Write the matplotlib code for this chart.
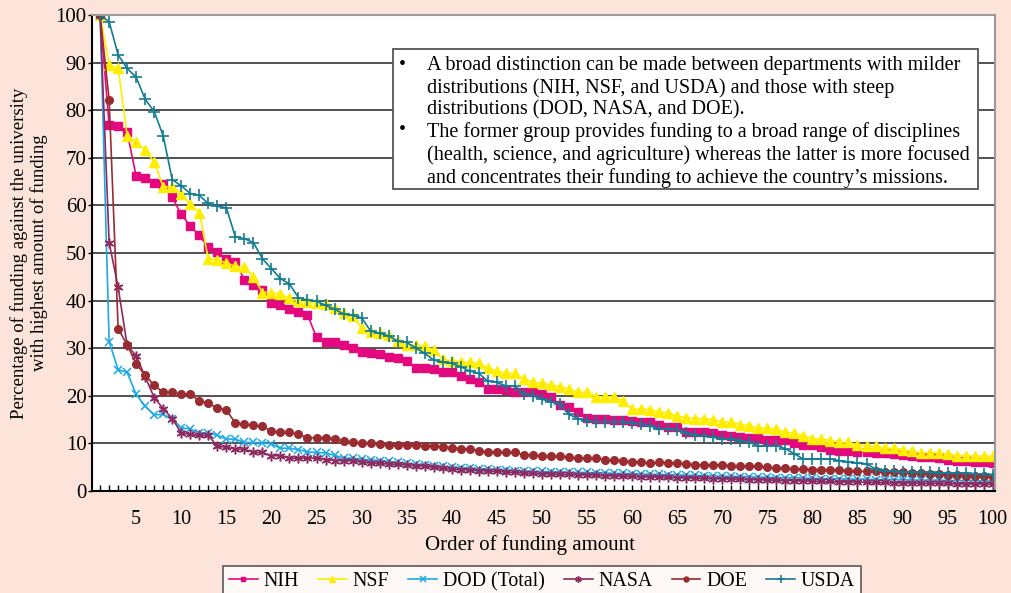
import matplotlib.pyplot as plt
import numpy as np
from matplotlib.patches import Rectangle
from matplotlib.ticker import MultipleLocator

# share of funding vs. top university, ranked 1..100
nih = [100, 76.8, 76.6, 75.4, 66.1, 65.8, 64.7, 64.4, 61.7, 58.1,
       55.7, 53.7, 51.2, 50.2, 48.8, 48.1, 44.4, 43.3, 42.3, 39.6,
       39.1, 38.2, 37.7, 37.0, 32.3, 31.3, 31.3, 30.7, 30.1, 29.3,
       28.9, 28.7, 28.2, 28.0, 27.3, 25.9, 25.9, 25.7, 25.0, 25.0,
       24.2, 23.6, 22.9, 21.5, 21.4, 21.2, 20.8, 20.9, 20.9, 20.3,
       19.8, 18.0, 17.7, 16.6, 15.4, 15.1, 15.1, 15.0, 15.0, 14.7,
       14.4, 14.4, 13.9, 13.5, 13.5, 12.4, 12.3, 12.3, 12.2, 11.7,
       11.6, 11.4, 11.1, 11.1, 10.8, 10.8, 10.8, 10.1, 9.7, 9.6,
       9.3, 8.7, 8.5, 8.5, 8.2, 8.1, 8.0, 7.9, 7.8, 7.5,
       7.4, 7.1, 7.1, 6.9, 6.6, 6.2, 6.2, 6.0, 6.0, 5.8]
nsf = [100, 89.5, 88.8, 74.6, 73.4, 71.6, 69.1, 63.9, 63.9, 62.5,
       60.2, 58.5, 48.8, 48.6, 47.9, 47.2, 47.1, 45.0, 41.7, 41.7,
       41.3, 40.6, 39.9, 39.7, 39.6, 39.2, 38.5, 37.5, 36.8, 34.2,
       33.5, 33.1, 32.7, 31.5, 30.6, 30.6, 30.4, 29.7, 27.7, 27.3,
       27.1, 27.0, 26.8, 25.8, 25.2, 24.7, 24.7, 23.5, 22.9, 22.6,
       22.3, 21.9, 21.4, 20.7, 20.7, 19.8, 19.8, 19.8, 18.9, 17.2,
       17.2, 17.1, 16.6, 16.4, 15.7, 15.4, 15.2, 15.2, 15.0, 14.5,
       14.5, 13.9, 13.7, 13.2, 13.2, 13.0, 12.3, 12.1, 11.6, 11.0,
       10.9, 10.6, 10.2, 10.2, 9.7, 9.5, 9.4, 9.0, 9.0, 8.7,
       8.3, 8.0, 8.0, 8.0, 7.8, 7.4, 7.4, 7.3, 7.3, 7.3]
dod = [100, 31.4, 25.5, 24.9, 20.3, 17.8, 16.0, 16.1, 15.1, 13.3,
       13.0, 12.2, 12.2, 11.7, 10.9, 10.9, 10.2, 10.2, 10.1, 9.9,
       9.0, 9.0, 8.7, 8.2, 8.1, 8.0, 7.5, 6.9, 6.9, 6.7,
       6.5, 6.4, 6.2, 6.0, 5.8, 5.6, 5.5, 5.3, 5.2, 5.0,
       4.9, 4.8, 4.7, 4.6, 4.5, 4.4, 4.3, 4.2, 4.1, 4.1,
       4.0, 4.0, 3.9, 3.9, 3.9, 3.8, 3.8, 3.7, 3.7, 3.6,
       3.6, 3.5, 3.5, 3.4, 3.4, 3.3, 3.3, 3.2, 3.2, 3.1,
       3.1, 3.0, 3.0, 2.9, 2.9, 2.8, 2.8, 2.8, 2.7, 2.7,
       2.6, 2.6, 2.6, 2.5, 2.5, 2.5, 2.4, 2.4, 2.4, 2.4,
       2.3, 2.3, 2.3, 2.3, 2.2, 2.2, 2.2, 2.2, 2.1, 2.1]
nasa = [100, 52.2, 42.8, 30.6, 28.4, 24.0, 19.6, 17.3, 15.2, 12.2,
        11.9, 11.7, 11.7, 9.4, 9.2, 8.8, 8.8, 8.1, 8.1, 7.4,
        7.4, 6.9, 6.9, 6.9, 6.9, 6.6, 6.4, 6.4, 6.4, 6.1,
        5.9, 5.8, 5.7, 5.6, 5.5, 5.3, 5.2, 5.0, 4.8, 4.6,
        4.5, 4.4, 4.3, 4.2, 4.1, 4.0, 3.9, 3.8, 3.7, 3.6,
        3.6, 3.5, 3.5, 3.4, 3.4, 3.3, 3.2, 3.2, 3.1, 3.1,
        3.0, 3.0, 2.9, 2.9, 2.8, 2.8, 2.7, 2.7, 2.6, 2.6,
        2.5, 2.5, 2.4, 2.4, 2.3, 2.3, 2.2, 2.2, 2.1, 2.1,
        2.0, 2.0, 1.9, 1.9, 1.9, 1.8, 1.8, 1.8, 1.7, 1.7,
        1.7, 1.6, 1.6, 1.6, 1.6, 1.5, 1.5, 1.5, 1.5, 1.4]
doe = [100, 82.2, 34.1, 30.7, 26.7, 24.3, 22.2, 20.7, 20.7, 20.3,
       20.3, 18.9, 18.4, 17.5, 17.0, 14.3, 14.0, 13.8, 13.6, 12.6,
       12.3, 12.3, 11.9, 11.2, 11.2, 11.2, 11.0, 10.5, 10.3, 10.1,
       10.0, 9.9, 9.7, 9.6, 9.6, 9.6, 9.5, 9.5, 9.3, 9.1,
       8.9, 8.8, 8.5, 8.2, 8.1, 8.1, 8.1, 7.6, 7.5, 7.4,
       7.4, 7.3, 7.1, 6.9, 6.9, 6.9, 6.5, 6.5, 6.4, 6.1,
       6.0, 5.9, 6.0, 5.9, 5.9, 5.7, 5.5, 5.5, 5.5, 5.5,
       5.3, 5.3, 5.2, 5.2, 5.0, 4.8, 4.8, 4.6, 4.6, 4.5,
       4.5, 4.4, 4.4, 4.3, 4.1, 4.1, 4.1, 3.9, 3.9, 3.9,
       3.8, 3.8, 3.6, 3.6, 3.4, 3.4, 3.2, 3.2, 3.1, 2.9]
usda = [100, 98.6, 91.6, 88.8, 86.9, 82.3, 79.7, 74.6, 65.4, 64.1,
        62.5, 62.1, 60.4, 59.8, 59.5, 53.4, 53.0, 52.2, 48.8, 46.7,
        44.6, 43.5, 40.6, 40.1, 39.9, 39.0, 38.2, 37.2, 36.9, 36.4,
        33.6, 33.1, 32.6, 31.5, 31.2, 30.1, 28.9, 27.5, 27.1, 26.8,
        26.1, 25.2, 24.7, 23.1, 22.8, 22.1, 22.1, 20.3, 20.0, 19.3,
        18.7, 18.2, 16.1, 15.2, 14.7, 14.5, 14.5, 14.5, 14.4, 14.2,
        14.0, 13.7, 13.0, 13.0, 12.9, 12.2, 11.7, 11.5, 11.3, 10.9,
        10.9, 10.6, 10.2, 9.5, 9.5, 9.5, 8.9, 7.8, 6.7, 6.7,
        6.7, 6.7, 6.4, 6.1, 5.9, 5.7, 4.6, 4.3, 4.1, 3.9,
        3.9, 3.9, 3.9, 3.8, 3.8, 3.8, 3.7, 3.6, 3.6, 3.4]

note = ("A broad distinction can be made between departments with milder\n"
        "distributions (NIH, NSF, and USDA) and those with steep\n"
        "distributions (DOD, NASA, and DOE).\n"
        "The former group provides funding to a broad range of disciplines\n"
        "(health, science, and agriculture) whereas the latter is more focused\n"
        "and concentrates their funding to achieve the country\u2019s missions.")

plt.rcParams['font.family'] = ['Liberation Serif', 'DejaVu Serif']

W, H = 1011, 593
bg = '#FDE4DA'
fig = plt.figure(figsize=(W / 100, H / 100), dpi=100, facecolor=bg)
ax = fig.add_axes([92 / W, 1 - 491 / H, (995 - 92) / W, (491 - 15) / H])
ax.set_facecolor('white')

rank = np.arange(1, 101)
ax.plot(rank, nih, color='#E4087E', marker='s', ms=5.5, lw=1.2, label='NIH')
ax.plot(rank, nsf, color='#FFEE00', marker='^', ms=6.5, lw=1.2, label='NSF')
ax.plot(rank, dod, color='#1CA9E6', marker='x', ms=6, mew=1.1, lw=1.2, label='DOD (Total)')
ax.plot(rank, nasa, color='#8E2A60', marker=(6, 2, 0), ms=7, mew=1.1, lw=1.2, label='NASA')
ax.plot(rank, doe, color='#9A2B30', marker='o', ms=5.5, lw=1.2, label='DOE')
ax.plot(rank, usda, color='#147C92', marker='+', ms=8, mew=1.2, lw=1.2, label='USDA')

ax.set_xlim(0.1, 100.25)
ax.set_ylim(0, 100)
ax.set_yticks(np.arange(0, 101, 10))
ax.set_xticks(np.arange(5, 101, 5))
ax.xaxis.set_minor_locator(MultipleLocator(1))
ax.tick_params(axis='x', which='both', direction='in', length=4, width=1,
               labelsize=14.5, pad=14)
ax.tick_params(axis='y', direction='out', length=3, width=1, labelsize=15, pad=1)
ax.grid(axis='y', color='#333333', lw=1.2)
ax.set_axisbelow(True)
for s in ['top', 'right']:
    ax.spines[s].set_color('#9a9a9a')
    ax.spines[s].set_linewidth(1.5)
for s in ['left', 'bottom']:
    ax.spines[s].set_color('black')
    ax.spines[s].set_linewidth(1.5)

fig.text(29 / W, 1 - 253 / H,
         'Percentage of funding against the university\nwith highest amount of funding',
         rotation=90, ha='center', va='center', multialignment='center', fontsize=13.5)
fig.text(530 / W, 1 - 545 / H, 'Order of funding amount', ha='center', va='center', fontsize=15)

# note box
fig.patches.append(Rectangle((393 / W, 1 - 189 / H), (978 - 393) / W, (189 - 49) / H,
                             transform=fig.transFigure, facecolor='white',
                             edgecolor='#555555', lw=1.3, zorder=5))
fig.text(427 / W, 1 - 56 / H, note, ha='left', va='top', fontsize=14.5,
         linespacing=1.19, zorder=6)
fig.text(402 / W, 1 - 56 / H, '\u2022\n\n\n\u2022\n\n', ha='center', va='top',
         fontsize=14.5, linespacing=1.19, zorder=6)

leg = fig.legend(loc='upper center', bbox_to_anchor=(542 / W, 1 - 566 / H), ncol=6,
                 fontsize=14.3, frameon=True, fancybox=False, edgecolor='#333333',
                 handlelength=1.45, handletextpad=0.3, columnspacing=0.95,
                 borderpad=0.3, borderaxespad=0, markerscale=0.65)
leg.get_frame().set_linewidth(1.2)

fig.savefig('out.png', dpi=100, facecolor=bg)
